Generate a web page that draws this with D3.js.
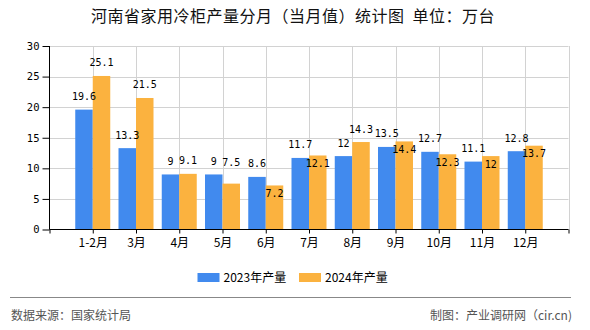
<!DOCTYPE html>
<html><head><meta charset="utf-8">
<script src="https://cdn.jsdelivr.net/npm/d3@7/dist/d3.min.js"></script>
<style>
html,body{margin:0;padding:0;background:#fff;}
svg{display:block;}
</style>
</head><body>
<svg id="c" width="590" height="330"></svg>
<script>
const categories = ["1-2月","3月","4月","5月","6月","7月","8月","9月","10月","11月","12月"];
const values2023 = [19.6,13.3,9,9,8.6,11.7,12,13.5,12.7,11.1,12.8];
const values2024 = [25.1,21.5,9.1,7.5,7.2,12.1,14.3,14.4,12.3,12,13.7];
const seriesNames = ["2023年产量","2024年产量"];
const yTicks = [0,5,10,15,20,25,30];
// label placement for 2024 series (style only)
const place2024 = ["above","above","above","high","below","below","above","below","below","below","below"];

const colors = ["#418AEE","#FBB23F"];
const cjk = "'Noto Sans CJK SC', 'Noto Sans', sans-serif";
const mono = "'DejaVu Sans Mono', 'Liberation Mono', monospace";

const svg = d3.select("#c");
const L = 49.5, R = 568.5, T = 46, B = 229.5;
const x = d3.scaleLinear().domain([0, categories.length + 1]).range([L, R]);
const y = d3.scaleLinear().domain([0, 30]).range([B, T]);
const barW = 17.5;

// title
svg.append("text").attr("x", 293).attr("y", 21.5).attr("text-anchor","middle")
  .attr("font-family", cjk).attr("font-size", 16).attr("fill","#111")
  .attr("letter-spacing", 0.5).attr("xml:space","preserve")
  .text("河南省家用冷柜产量分月（当月值）统计图  单位：万台");

// grid
const grid = svg.append("g").attr("stroke","#d2d2d2").attr("stroke-width",1);
yTicks.filter(d=>d>0).forEach(t=>{
  grid.append("line").attr("x1",L).attr("x2",R).attr("y1",Math.round(y(t))+0.5).attr("y2",Math.round(y(t))+0.5);
});
d3.range(1, categories.length + 2).forEach(i=>{
  grid.append("line").attr("x1",Math.round(x(i))+0.5).attr("x2",Math.round(x(i))+0.5).attr("y1",T).attr("y2",B);
});

// bars
const gBars = svg.append("g");
gBars.selectAll("rect.a").data(values2023).join("rect")
  .attr("x",(d,i)=>x(i+1)-barW).attr("width",barW)
  .attr("y",d=>y(d)).attr("height",d=>B-y(d)).attr("fill",colors[0]);
gBars.selectAll("rect.b").data(values2024).join("rect")
  .attr("x",(d,i)=>x(i+1)).attr("width",barW)
  .attr("y",d=>y(d)).attr("height",d=>B-y(d)).attr("fill",colors[1]);

// value labels
const gL = svg.append("g").attr("font-family",mono).attr("font-size",10).attr("fill","#000").attr("text-anchor","middle");
gL.selectAll("text.a").data(values2023).join("text")
  .attr("x",(d,i)=>x(i+1)-barW/2).attr("y",d=>y(d)-9.5).text(d=>d);
gL.selectAll("text.b").data(values2024).join("text")
  .attr("x",(d,i)=>x(i+1)+barW/2)
  .attr("y",(d,i)=>{
    const p = place2024[i];
    if(p==="below") return y(d)+11.5;
    if(p==="high") return y(d)-17.5;
    return y(d)-9.5;
  }).text(d=>d);

// axes
const yAxis = d3.axisLeft(y).tickValues(yTicks).tickSize(7).tickPadding(3);
const gy = svg.append("g").attr("transform",`translate(${L},0)`).call(yAxis);
gy.selectAll("text").attr("font-family",mono).attr("font-size",10.5).attr("fill","#000");
gy.selectAll("line,path").attr("stroke","#000");
gy.select("path").attr("d",`M0,${T}V${B}`);

const xAxis = d3.axisBottom(x).tickValues(d3.range(0, categories.length + 2))
  .tickFormat(i => categories[i-1] || "").tickSize(4).tickPadding(5);
const gx = svg.append("g").attr("transform",`translate(0,${B})`).call(xAxis);
gx.selectAll("text").attr("font-family",cjk).attr("font-size",12).attr("fill","#000");
gx.selectAll("line,path").attr("stroke","#000");
gx.select("path").attr("d",`M${L},0H${R}`);

// legend
const lg = svg.append("g").attr("font-family",cjk).attr("font-size",12).attr("fill","#000");
const lx = [197.5, 299];
seriesNames.forEach((n,i)=>{
  lg.append("rect").attr("x",lx[i]).attr("y",273).attr("width",22).attr("height",9).attr("fill",colors[i]);
  lg.append("text").attr("x",lx[i]+26).attr("y",282).text(n);
});

// footer
svg.append("line").attr("x1",10).attr("x2",571).attr("y1",297.5).attr("y2",297.5).attr("stroke","#888").attr("stroke-width",1);
svg.append("text").attr("x",11).attr("y",320).attr("font-family",cjk).attr("font-size",12).attr("fill","#555").text("数据来源：国家统计局");
svg.append("text").attr("x",572).attr("y",320).attr("text-anchor","end").attr("font-family",cjk).attr("font-size",12).attr("fill","#555").text("制图：产业调研网（cir.cn)");
</script>
</body></html>
